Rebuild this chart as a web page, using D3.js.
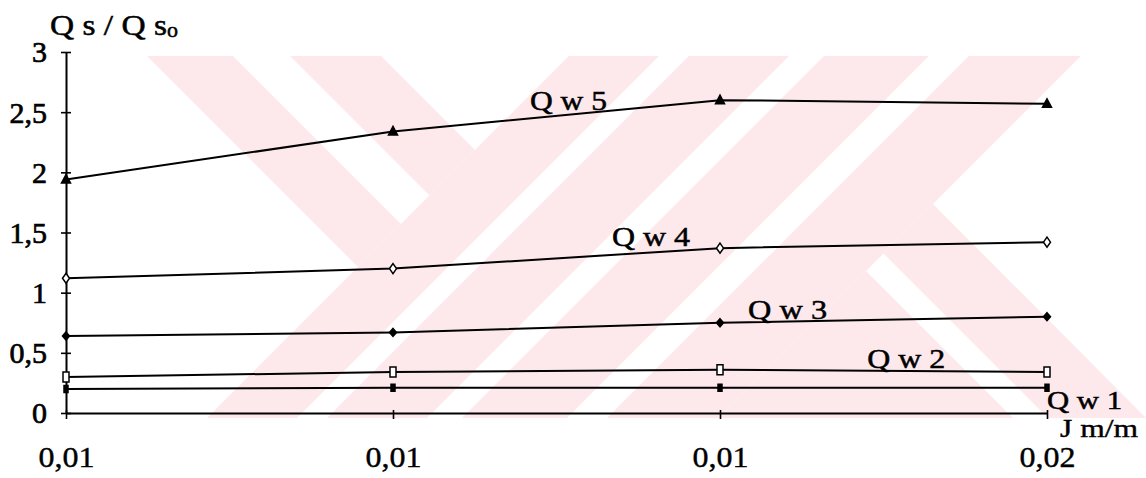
<!DOCTYPE html>
<html>
<head>
<meta charset="utf-8">
<script src="https://cdn.jsdelivr.net/npm/d3@7/dist/d3.min.js"></script>
<style>
  html, body { margin: 0; padding: 0; background: #fff; }
  svg { display: block; }
</style>
</head>
<body>
<svg id="chart" width="1146" height="478"></svg>
<script>
// ---- data ----
const xLabels = ["0,01", "0,01", "0,01", "0,02"];
const yTicks = [0, 0.5, 1, 1.5, 2, 2.5, 3];
const seriesNames = ["Q w 1", "Q w 2", "Q w 3", "Q w 4", "Q w 5"];
const qw1 = [0.20, 0.21, 0.21, 0.21];
const qw2 = [0.30, 0.34, 0.36, 0.34];
const qw3 = [0.64, 0.67, 0.75, 0.80];
const qw4 = [1.12, 1.20, 1.37, 1.42];
const qw5 = [1.94, 2.34, 2.60, 2.57];
const seriesValues = [qw1, qw2, qw3, qw4, qw5];

// ---- pick an installed Times-like face ----
const svg = d3.select("#chart");
function pickFont(candidates) {
  const probe = svg.append("text").attr("x", -999).attr("y", -999).attr("font-size", 40)
    .text("Qwmil0123456789,/");
  probe.style("font-family", "monospace");
  const base = probe.node().getComputedTextLength();
  let found = null;
  for (const f of candidates) {
    probe.style("font-family", `"${f}", monospace`);
    if (Math.abs(probe.node().getComputedTextLength() - base) > 0.5) { found = f; break; }
  }
  probe.remove();
  return found ? `"${found}", serif` : "serif";
}
const FONT = pickFont(["Liberation Serif", "Times New Roman", "Tinos", "Times", "Nimbus Roman", "DejaVu Serif"]);

// ---- layout ----
const W = 1146;
const x = d3.scaleLinear().domain([0, xLabels.length - 1]).range([66, 1047]);
const y = d3.scaleLinear().domain([0, 3]).range([413, 52]);

// ---- background emblem (faint striped bands) ----
const wmColor = "#fde8ec";
const T = 56, B = 418;
const defs = svg.append("defs");
// band between lines y = x + c  (falling diagonals)
const backBand = (c1, c2, y1, y2) => [[y1 - c1, y1], [y1 - c2, y1], [y2 - c2, y2], [y2 - c1, y2]];
// band between lines y = -x + c (rising diagonals)
const fwdBand = (c1, c2, y1, y2) => [[c1 - y1, y1], [c2 - y1, y1], [c2 - y2, y2], [c1 - y2, y2]];
const poly = pts => "M" + pts.map(p => p.join(",")).join("L") + "Z";

defs.append("clipPath").attr("id", "clipUL")
  .append("path").attr("d", poly([[0, T], [625 - T, T], [625 - B, B], [0, B]]));
defs.append("clipPath").attr("id", "clipLR")
  .append("path").attr("d", poly([[933, 204], [W + 10, B + 10], [W, B], [719, B]]));
defs.append("clipPath").attr("id", "clipAll")
  .append("rect").attr("x", 0).attr("y", T).attr("width", W).attr("height", B - T);

const wm = svg.append("g").attr("fill", wmColor).attr("clip-path", "url(#clipAll)");
const ul = wm.append("g").attr("clip-path", "url(#clipUL)");
[[-177, -91], [-325, -234]].forEach(([a, b]) =>
  ul.append("path").attr("d", poly(backBand(a, b, T, B))));
[[625, 715], [745, 845], [880, 985], [1025, 1137]].forEach(([a, b]) =>
  wm.append("path").attr("d", poly(fwdBand(a, b, T - 10, B + 10))));
const lr = wm.append("g").attr("clip-path", "url(#clipLR)");
[[-730, -630], [-595, -200]].forEach(([a, b]) =>
  lr.append("path").attr("d", poly(backBand(a, b, 150, B + 10))));

// ---- axes ----
const yAxis = svg.append("g")
  .attr("transform", `translate(${x(0)},0)`)
  .call(d3.axisLeft(y).tickValues(yTicks).tickSizeOuter(0).tickSizeInner(5)
    .tickFormat(d => String(d).replace(".", ",")));
yAxis.select(".domain").attr("stroke", "#000").attr("stroke-width", 2);
yAxis.selectAll(".tick line").attr("x1", -5).attr("x2", 5)
  .attr("stroke", "#000").attr("stroke-width", 1.6);
yAxis.selectAll(".tick text")
  .attr("x", -19).attr("dy", "0.33em")
  .attr("font-size", 30)
  .attr("stroke", "#000").attr("stroke-width", 0.7)
  .attr("fill", "#000");

const xAxis = svg.append("g")
  .attr("transform", `translate(0,${y(0)})`)
  .call(d3.axisBottom(x).tickValues(d3.range(xLabels.length)).tickSizeOuter(0).tickSizeInner(6)
    .tickFormat(i => xLabels[i]));
xAxis.select(".domain").attr("stroke", "#000").attr("stroke-width", 2);
xAxis.selectAll(".tick line").attr("y1", -3).attr("y2", 6)
  .attr("stroke", "#000").attr("stroke-width", 1.6);
xAxis.selectAll(".tick text")
  .attr("y", 54).attr("dy", 0)
  .attr("font-size", 30)
  .attr("textLength", 56).attr("lengthAdjust", "spacingAndGlyphs")
  .attr("stroke", "#000").attr("stroke-width", 0.4)
  .attr("fill", "#000");

// ---- axis titles ----
const yTitle = svg.append("text").attr("x", 50).attr("y", 35).attr("font-size", 29)
  .attr("stroke", "#000").attr("stroke-width", 0.5);
yTitle.append("tspan").text("Q s / Q s").attr("textLength", 117).attr("lengthAdjust", "spacingAndGlyphs");
yTitle.append("tspan").attr("font-size", 22).attr("dy", 2).text("o");

svg.append("text").attr("x", 1060).attr("y", 437).attr("font-size", 25)
  .attr("stroke", "#000").attr("stroke-width", 0.4)
  .attr("textLength", 78).attr("lengthAdjust", "spacingAndGlyphs").text("J m/m");

// ---- series lines ----
const line = d3.line().x((d, i) => x(i)).y(d => y(d));
svg.append("g").selectAll("path").data(seriesValues).join("path")
  .attr("d", line).attr("fill", "none").attr("stroke", "#000")
  .attr("stroke-width", 2).attr("stroke-linejoin", "round");

// ---- markers ----
const markerShapes = [
  { d: "M-2,-3.5H2V3.5H-2Z", fill: "#000" },          // Qw1 filled bar
  { d: "M-3,-5H3V5H-3Z", fill: "#fff" },               // Qw2 open rectangle
  { d: "M0,-4L3.5,0L0,4L-3.5,0Z", fill: "#000" },      // Qw3 filled diamond
  { d: "M0,-5L3.5,0L0,5L-3.5,0Z", fill: "#fff" },      // Qw4 open diamond
  { d: "M0,-5L4.5,3.5H-4.5Z", fill: "#000" }           // Qw5 filled triangle
];
seriesValues.forEach((vals, s) => {
  svg.append("g").selectAll("path").data(vals).join("path")
    .attr("transform", (d, i) => `translate(${x(i)},${y(d)})`)
    .attr("d", markerShapes[s].d)
    .attr("fill", markerShapes[s].fill)
    .attr("stroke", "#000").attr("stroke-width", 1.5);
});

// ---- series labels (placed in data units) ----
const labelSpots = [
  { at: [3.0, 0.035], w: 75 },
  { at: [2.45, 0.374], w: 78 },
  { at: [2.086, 0.781], w: 79 },
  { at: [1.67, 1.388], w: 78 },
  { at: [1.419, 2.518], w: 77 }
];
svg.append("g").selectAll("text").data(seriesNames).join("text")
  .attr("x", (d, i) => x(labelSpots[i].at[0]))
  .attr("y", (d, i) => y(labelSpots[i].at[1]))
  .attr("font-size", (d, i) => i === 0 ? 25 : 27)
  .attr("textLength", (d, i) => labelSpots[i].w)
  .attr("lengthAdjust", "spacingAndGlyphs")
  .attr("stroke", "#000").attr("stroke-width", 0.5)
  .text(d => d);

// apply the chosen face everywhere
svg.selectAll("text").style("font-family", FONT).style("fill", "#000");
</script>
</body>
</html>
